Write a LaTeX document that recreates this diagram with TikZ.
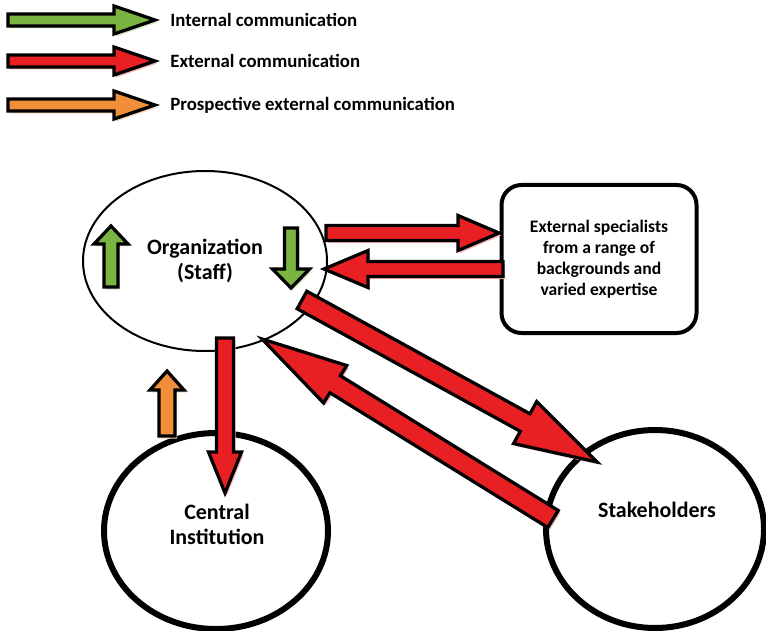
\documentclass[tikz,border=0pt]{standalone}
\usepackage{fontspec}
\setmainfont{Carlito}
\usetikzlibrary{calc,shapes.geometric}

\newcommand{\px}{0.02cm}
\definecolor{ingreen}{RGB}{122,181,66}
\definecolor{exred}{RGB}{232,32,36}
\definecolor{prorange}{RGB}{240,142,58}

% block arrow: #1 colour, #2 tail, #3 tip, #4 half shaft, #5 half head, #6 head length (px)
\newcommand{\fatarrow}[6]{%
  \coordinate (hb) at ($(#3)!#6*\px!(#2)$);
  \draw [blockarrow=#1]
    ($(#2)!#4*\px!90:(#3)$) -- ($(hb)!#4*\px!90:(#3)$) -- ($(hb)!#5*\px!90:(#3)$)
    -- (#3)
    -- ($(hb)!#5*\px!-90:(#3)$) -- ($(hb)!#4*\px!-90:(#3)$) -- ($(#2)!#4*\px!-90:(#3)$)
    -- cycle;
}

\begin{document}
\begin{tikzpicture}[x=\px, y=-\px,
  blockarrow/.style={draw=black, line width=0.065cm, line join=miter, fill=#1,
    preaction={fill=#1!35, transform canvas={shift={(0.04cm,-0.05cm)}}}},
  legendtext/.style={anchor=west, inner xsep=0pt, font=\fontsize{10.7}{12}\selectfont\bfseries},
  labeltext/.style={align=center, font=\fontsize{12.5}{14.2}\selectfont\bfseries},
  thinellipse/.style={ellipse, draw, line width=0.04cm, inner sep=0pt},
  thickellipse/.style={ellipse, draw, line width=0.12cm, inner sep=0pt},
  extbox/.style={draw, line width=0.08cm, rounded corners=0.4cm, align=center,
    font=\fontsize{10}{12}\selectfont\bfseries}]

	\useasboundingbox (0,0) rectangle (766,631);

	% legend
	\foreach \yy/\cc/\txt in {20/ingreen/Internal communication,
	                          61/exred/External communication,
	                          105/prorange/Prospective external communication} {
		\coordinate (lt\yy) at (8,\yy);
		\coordinate (lh\yy) at (155,\yy);
		\fatarrow{\cc}{lt\yy}{lh\yy}{6}{14}{41}
		\node (leg\yy) [legendtext] at (170,\yy) {\txt};
	}

	% parties
	\node (org) [thinellipse, labeltext, minimum width=244*\px, minimum height=180*\px] at (205,261) {Organization\\(Staff)};
	\node (ext) [extbox, minimum width=195*\px, minimum height=148*\px] at (599,259)
		{External specialists\\from a range of\\backgrounds and\\varied expertise};
	\node (central) [thickellipse, minimum width=224*\px, minimum height=196*\px] at (216,531) {};
	\node (centraltext) [labeltext] at (217,524) {Central\\Institution};
	\node (stake) [thickellipse, minimum width=218*\px, minimum height=198*\px] at (655,529) {};
	\node (staketext) [labeltext] at (657,510) {Stakeholders};

	% arrow ends
	\coordinate (orgE1) at (326,233);   \coordinate (extW1) at (499,233);
	\coordinate (extW2) at (503,269);   \coordinate (orgE2) at (324,269);
	\coordinate (orgSE) at (302,300);   \coordinate (stakeNW) at (597,462);
	\coordinate (stakeW) at (553,519);  \coordinate (orgS) at (262,339);
	\coordinate (orgB) at (225,338);    \coordinate (centralN) at (225,493);
	\coordinate (centralNW) at (167,436); \coordinate (orgSW) at (167,371);
	\coordinate (upA) at (111,287);     \coordinate (upB) at (111,226);
	\coordinate (downA) at (291,228);   \coordinate (downB) at (291,288);

	% internal communication
	\fatarrow{ingreen}{upA}{upB}{7}{17}{18}
	\fatarrow{ingreen}{downA}{downB}{6.5}{18.5}{19}

	% external communication
	\fatarrow{exred}{orgE1}{extW1}{7.5}{17.5}{41}
	\fatarrow{exred}{extW2}{orgE2}{7.5}{18.5}{44}
	\fatarrow{exred}{orgSE}{stakeNW}{10}{24}{82}
	\fatarrow{exred}{stakeW}{orgS}{10}{22}{86}
	\fatarrow{exred}{orgB}{centralN}{8.5}{16.5}{41}

	% prospective
	\fatarrow{prorange}{centralNW}{orgSW}{8}{17}{19}

\end{tikzpicture}
\end{document}
